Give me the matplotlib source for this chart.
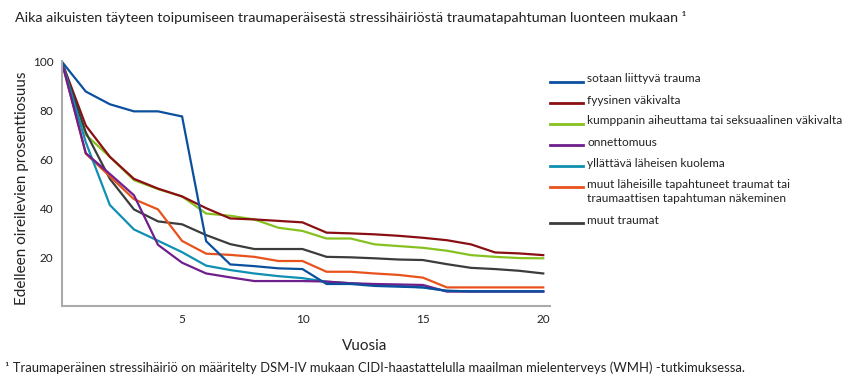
import matplotlib
matplotlib.use("Agg")
import matplotlib.pyplot as plt
from matplotlib.lines import Line2D

plt.rcParams['font.family'] = ['Lato', 'DejaVu Sans']

years = list(range(0, 21))

sotaan = [100, 87.7, 82.5, 79.6, 79.6, 77.5, 26.5, 17, 16.3, 15.4, 15.1, 9, 9, 8.2, 7.9, 7.6, 6.2, 6, 6, 6, 6]
fyysinen = [100, 73.8, 61, 52, 48, 44.8, 40, 35.8, 35.4, 34.8, 34.2, 30, 29.7, 29.3, 28.7, 27.9, 26.9, 25.2, 21.9, 21.5, 20.8]
kumppani = [100, 70, 61, 51.5, 47.8, 44.8, 37.8, 36.9, 35.4, 32, 30.7, 27.6, 27.6, 25.2, 24.5, 23.8, 22.6, 20.8, 20.1, 19.6, 19.5]
onnettomuus = [100, 62.5, 54, 45.3, 25, 17.7, 13.3, 11.7, 10.2, 10.2, 10.2, 10, 9.3, 9, 8.8, 8.6, 5.9, 5.9, 5.9, 5.9, 5.9]
kuolema = [100, 67, 41.3, 31.3, 26.7, 22, 16.5, 14.7, 13.3, 12.2, 11.4, 9.9, 9.3, 8.6, 8.2, 7.6, 6.2, 6, 6, 6, 6]
laheisille = [100, 62.3, 53, 43.7, 39.5, 26.6, 21.4, 20.9, 20.1, 18.4, 18.4, 14, 14, 13.3, 12.7, 11.6, 7.6, 7.6, 7.6, 7.6, 7.6]
muut = [100, 71, 52, 39.5, 34.6, 33.4, 29, 25.3, 23.3, 23.3, 23.3, 20.1, 19.9, 19.5, 19, 18.8, 17.1, 15.6, 15.1, 14.4, 13.3]

labels = [
    "sotaan liittyvä trauma",
    "fyysinen väkivalta",
    "kumppanin aiheuttama tai seksuaalinen väkivalta",
    "onnettomuus",
    "yllättävä läheisen kuolema",
    "muut läheisille tapahtuneet traumat tai\ntraumaattisen tapahtuman näkeminen",
    "muut traumat",
]
values = [sotaan, fyysinen, kumppani, onnettomuus, kuolema, laheisille, muut]
colors = ["#0b4f9f", "#8a0f12", "#86c120", "#6f1f8c", "#0f90b2", "#e8521c", "#3c3c3c"]

x_ticks = [5, 10, 15, 20]
y_ticks = [20, 40, 60, 80, 100]

W, H = 850, 390
fig = plt.figure(figsize=(8.5, 3.9), dpi=100)
ax = fig.add_axes([0.0726, 0.2154, 0.575, 0.627])

draw_order = [2, 1, 6, 5, 4, 3, 0]
for i in draw_order:
    ax.plot(years, values[i], color=colors[i], lw=1.6, solid_joinstyle='miter')

ax.set_xlim(0, 20.3)
ax.set_ylim(0, 100)
ax.set_xticks(x_ticks)
ax.set_yticks(y_ticks)
ax.tick_params(length=0, labelsize=8.5, colors='#222222', pad=6)
for s in ['top', 'right']:
    ax.spines[s].set_visible(False)
for s in ['left', 'bottom']:
    ax.spines[s].set_color('#aaaaaa')
    ax.spines[s].set_linewidth(1.5)

ax.set_xlabel("Vuosia", fontsize=11, color='#222222')
ax.xaxis.set_label_coords(0.62, -0.135)
ax.set_ylabel("Edelleen oireilevien prosenttiosuus", fontsize=11, color='#222222')
ax.yaxis.set_label_coords(-0.066, 0.48)

fig.text(15 / W, 1 - 17 / H, "Aika aikuisten täyteen toipumiseen traumaperäisestä stressihäiriöstä traumatapahtuman luonteen mukaan ¹",
         fontsize=10.3, color='#222222', va='center', ha='left')
fig.text(5 / W, 1 - 368 / H, "¹ Traumaperäinen stressihäiriö on määritelty DSM-IV mukaan CIDI-haastattelulla maailman mielenterveys (WMH) -tutkimuksessa.",
         fontsize=9.35, color='#222222', va='center', ha='left')

# legend (manual, handle aligned with first text line)
y = 81.5
for lab, col in zip(labels, colors):
    fig.add_artist(Line2D([550 / W, 583 / W], [1 - y / H, 1 - y / H], color=col, lw=2.0,
                          transform=fig.transFigure))
    lines = lab.split("\n")
    for k, line in enumerate(lines):
        fig.text(587 / W, 1 - (y - 2.5 + 14.5 * k) / H, line, fontsize=8.6, color='#222222',
                 va='center', ha='left')
    y += 21 + 15 * (len(lines) - 1)

fig.savefig("out.png", dpi=100)
